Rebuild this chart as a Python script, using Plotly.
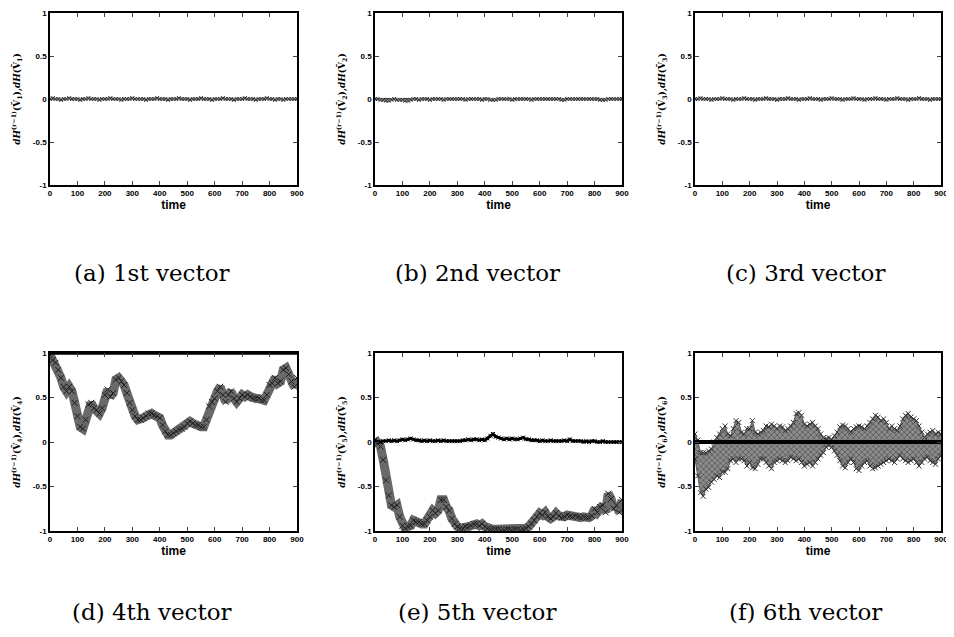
import plotly.graph_objects as go

# time grid (every 10 steps)
time = list(range(0, 901, 10))
ends = [0, 900]

# top row: dH(V_k) stays on zero
dh1 = [0.0, 0.01, 0.0, 0.0, -0.01, 0.0, 0.0, 0.01, 0.0, 0.0, 0.0, -0.01, 0.0, 0.0, 0.01, 0.0,
       0.0, 0.0, -0.01, 0.0, 0.0, 0.0, 0.01, 0.0, 0.0, 0.0, -0.01, 0.0, 0.0, 0.0, 0.01, 0.0,
       0.0, 0.0, 0.0, -0.01, 0.0, 0.0, 0.0, 0.01, 0.0, 0.0, 0.0, -0.01, 0.0, 0.0, 0.0, 0.01,
       0.0, 0.0, 0.0, -0.01, 0.0, 0.0, 0.0, 0.01, 0.0, 0.0, 0.0, -0.01, 0.0, 0.0, 0.0, 0.01,
       0.0, 0.0, 0.0, -0.01, 0.0, 0.0, 0.0, 0.01, 0.0, 0.0, 0.0, -0.01, 0.0, 0.0, 0.0, 0.01,
       0.0, 0.0, -0.01, 0.0, 0.0, -0.01, 0.0, 0.0, 0.0, 0.0, 0.0]
dh2 = [0.0, 0.0, -0.01, -0.01, -0.02, -0.02, -0.01, 0.0, -0.01, -0.01, -0.01, -0.02, -0.02, -0.01,
       0.0, 0.0, -0.01, 0.0, 0.0, 0.0, -0.01, 0.0, 0.0, 0.0, 0.0, -0.01, 0.0, 0.0, 0.0, 0.0,
       0.0, 0.0, 0.0, -0.01, 0.0, 0.0, 0.0, 0.0, 0.0, -0.01, 0.0, 0.0, -0.01, -0.01, -0.01, 0.0,
       0.0, 0.0, 0.0, 0.0, -0.01, 0.0, 0.0, 0.0, 0.0, 0.0, 0.0, -0.01, 0.0, 0.0, 0.0, 0.0,
       0.0, 0.0, 0.0, 0.0, 0.0, 0.0, -0.01, -0.01, 0.0, 0.0, 0.0, 0.0, 0.0, 0.0, 0.0, 0.0,
       0.0, 0.0, 0.0, 0.0, -0.01, -0.01, -0.01, 0.0, 0.0, 0.0, 0.0, 0.0, 0.0]
dh3 = [0.0, 0.0, 0.01, 0.0, 0.0, 0.0, -0.01, 0.0, 0.0, 0.0, 0.01, 0.0, 0.0, 0.0, -0.01, 0.0,
       0.0, 0.0, 0.01, 0.0, 0.0, 0.0, -0.01, 0.0, 0.0, 0.0, 0.01, 0.0, 0.0, 0.0, -0.01, 0.0,
       0.0, 0.0, 0.01, 0.0, 0.0, 0.0, -0.01, 0.0, 0.0, 0.0, 0.01, 0.0, 0.0, 0.0, -0.01, 0.0,
       0.0, 0.0, 0.01, 0.0, 0.0, 0.0, -0.01, 0.0, 0.0, 0.0, 0.01, 0.0, 0.0, 0.0, -0.01, 0.0,
       0.0, 0.0, 0.01, 0.0, 0.0, 0.0, -0.01, 0.0, 0.0, 0.0, 0.01, 0.0, 0.0, 0.0, -0.01, 0.0,
       0.0, 0.0, 0.01, 0.0, 0.0, 0.0, -0.01, 0.0, 0.0, 0.0, 0.0]

# 4th vector
dh4 = [0.98, 0.92, 0.89, 0.81, 0.72, 0.62, 0.57, 0.62, 0.57, 0.44,
       0.29, 0.17, 0.15, 0.25, 0.42, 0.44, 0.38, 0.36, 0.32, 0.38,
       0.53, 0.59, 0.51, 0.55, 0.70, 0.72, 0.68, 0.64, 0.55, 0.44,
       0.36, 0.29, 0.25, 0.25, 0.27, 0.29, 0.32, 0.32, 0.30, 0.29,
       0.27, 0.19, 0.12, 0.08, 0.08, 0.10, 0.12, 0.14, 0.15, 0.17,
       0.21, 0.23, 0.21, 0.19, 0.19, 0.17, 0.17, 0.25, 0.40, 0.45,
       0.49, 0.57, 0.62, 0.53, 0.45, 0.53, 0.57, 0.49, 0.45, 0.49,
       0.53, 0.51, 0.53, 0.51, 0.49, 0.49, 0.49, 0.47, 0.47, 0.53,
       0.64, 0.66, 0.72, 0.66, 0.68, 0.81, 0.83, 0.76, 0.68, 0.62, 0.72]
orc4 = [1.0, 1.0]

# 5th vector
dh5 = [0.03, -0.02, -0.05, -0.20, -0.43, -0.60, -0.71, -0.73, -0.71, -0.84,
       -0.94, -0.97, -0.95, -0.94, -0.88, -0.90, -0.90, -0.92, -0.92, -0.88,
       -0.84, -0.77, -0.80, -0.77, -0.65, -0.65, -0.73, -0.77, -0.86, -0.92,
       -0.95, -0.97, -0.97, -0.95, -0.95, -0.94, -0.92, -0.92, -0.94, -0.92,
       -0.95, -0.97, -0.98, -0.98, -0.98, -0.98, -0.99, -0.99, -0.98, -0.98,
       -0.99, -0.98, -0.98, -0.99, -0.98, -0.97, -0.95, -0.92, -0.88, -0.84,
       -0.80, -0.82, -0.79, -0.84, -0.86, -0.84, -0.80, -0.83, -0.85, -0.84,
       -0.82, -0.83, -0.84, -0.83, -0.84, -0.85, -0.84, -0.85, -0.85, -0.83,
       -0.75, -0.79, -0.73, -0.71, -0.79, -0.58, -0.64, -0.75, -0.71, -0.79, -0.65]
orc5 = [0.02, 0.0, 0.0, 0.01, 0.01, 0.02, 0.01, 0.02, 0.01, 0.02,
        0.03, 0.02, 0.03, 0.04, 0.03, 0.02, 0.02, 0.01, 0.02, 0.01,
        0.02, 0.01, 0.01, 0.02, 0.01, 0.02, 0.01, 0.01, 0.01, 0.01,
        0.01, 0.01, 0.02, 0.02, 0.03, 0.02, 0.03, 0.03, 0.02, 0.03,
        0.02, 0.04, 0.07, 0.09, 0.06, 0.05, 0.04, 0.03, 0.04, 0.03,
        0.04, 0.03, 0.03, 0.04, 0.05, 0.03, 0.03, 0.02, 0.02, 0.02,
        0.01, 0.02, 0.01, 0.01, 0.02, 0.01, 0.01, 0.01, 0.01, 0.02,
        0.01, 0.03, 0.01, 0.01, 0.01, 0.01, 0.0, 0.01, 0.0, 0.01,
        0.01, 0.0, 0.0, 0.01, 0.0, 0.0, 0.0, 0.0, 0.0, 0.0, 0.0]

# 6th vector: spread of dH(V_6), upper and lower edge of the cloud
dh6_hi = [0.09, 0.02, -0.12, -0.12, -0.12, -0.10, -0.08, 0.0, 0.05, 0.09,
          0.15, 0.18, 0.09, 0.07, 0.15, 0.24, 0.22, 0.11, 0.09, 0.15,
          0.15, 0.24, 0.11, 0.09, 0.11, 0.13, 0.18, 0.17, 0.20, 0.18,
          0.15, 0.18, 0.17, 0.13, 0.15, 0.18, 0.22, 0.32, 0.33, 0.30,
          0.20, 0.18, 0.20, 0.22, 0.18, 0.15, 0.09, 0.05, 0.04, 0.05,
          0.03, 0.07, 0.11, 0.17, 0.19, 0.18, 0.15, 0.11, 0.15, 0.17,
          0.18, 0.17, 0.15, 0.18, 0.22, 0.26, 0.30, 0.28, 0.24, 0.26,
          0.22, 0.15, 0.18, 0.15, 0.13, 0.18, 0.26, 0.30, 0.32, 0.28,
          0.26, 0.24, 0.18, 0.11, 0.05, 0.09, 0.11, 0.13, 0.09, 0.11, 0.09]
dh6_lo = [-0.19, -0.38, -0.57, -0.61, -0.53, -0.51, -0.45, -0.42, -0.38, -0.40,
          -0.34, -0.34, -0.30, -0.21, -0.19, -0.23, -0.19, -0.19, -0.21, -0.27,
          -0.23, -0.29, -0.30, -0.25, -0.19, -0.19, -0.23, -0.27, -0.30, -0.23,
          -0.21, -0.19, -0.21, -0.23, -0.21, -0.17, -0.19, -0.21, -0.19, -0.23,
          -0.27, -0.25, -0.23, -0.27, -0.23, -0.19, -0.15, -0.12, -0.06, -0.04,
          -0.06, -0.10, -0.15, -0.21, -0.27, -0.29, -0.23, -0.19, -0.23, -0.30,
          -0.32, -0.27, -0.23, -0.21, -0.27, -0.30, -0.29, -0.27, -0.25, -0.23,
          -0.21, -0.19, -0.21, -0.23, -0.19, -0.15, -0.19, -0.21, -0.23, -0.21,
          -0.19, -0.23, -0.27, -0.23, -0.19, -0.17, -0.21, -0.23, -0.25, -0.19, -0.15]
orc_zero = [0.0, 0.0]

captions = ["(a) 1st vector", "(b) 2nd vector", "(c) 3rd vector",
            "(d) 4th vector", "(e) 5th vector", "(f) 6th vector"]
yticks = [-1, -0.5, 0, 0.5, 1]
ytext = ["-1", "-0.5", "0", "0.5", "1"]

# page has an 8px body margin, so the figure is offset by that much
W, H, OFF = 946, 629, 8
def fx(px):
    return (px - OFF) / W
def fy(py):
    return 1 - (py - OFF) / H

xdoms = [[fx(50), fx(297)], [fx(375), fx(622)], [fx(695), fx(941)]]
ydoms = [[fy(185), fy(13)], [fy(531), fy(353)]]

fig = go.Figure()

band = dict(mode="lines+markers", line=dict(color="#6a6a6a", width=9),
            marker=dict(symbol="x-thin", size=6, line=dict(color="#1e1e1e", width=1)),
            showlegend=False, hoverinfo="skip")
dark = dict(mode="lines", line=dict(color="black", width=1.5), showlegend=False, hoverinfo="skip")

def ax(n):
    return "" if n == 1 else str(n)

# top row
for i, d in enumerate([dh1, dh2, dh3]):
    n = i + 1
    fig.add_trace(go.Scatter(x=ends, y=orc_zero, xaxis="x" + ax(n), yaxis="y" + ax(n), **dark))
    fig.add_trace(go.Scatter(x=time, y=d, xaxis="x" + ax(n), yaxis="y" + ax(n), mode="lines+markers",
                             line=dict(color="#a0a0a0", width=3),
                             marker=dict(symbol="x-thin", size=4, line=dict(color="#333", width=1)),
                             showlegend=False, hoverinfo="skip"))

# (d)
fig.add_trace(go.Scatter(x=time, y=dh4, xaxis="x4", yaxis="y4", **band))
fig.add_trace(go.Scatter(x=ends, y=orc4, xaxis="x4", yaxis="y4", mode="lines",
                         line=dict(color="black", width=3.5), showlegend=False, hoverinfo="skip"))
# (e)
fig.add_trace(go.Scatter(x=time, y=dh5, xaxis="x5", yaxis="y5", **band))
fig.add_trace(go.Scatter(x=time, y=orc5, xaxis="x5", yaxis="y5", mode="lines+markers",
                         line=dict(color="black", width=3),
                         marker=dict(symbol="x-thin", size=4, line=dict(color="black", width=1)),
                         showlegend=False, hoverinfo="skip"))
# (f)
edge = dict(symbol="x-thin", size=5, line=dict(color="#333", width=1))
fig.add_trace(go.Scatter(x=time, y=dh6_lo, xaxis="x6", yaxis="y6", mode="lines+markers",
                         line=dict(color="#555", width=1), marker=edge,
                         showlegend=False, hoverinfo="skip"))
fig.add_trace(go.Scatter(x=time, y=dh6_hi, xaxis="x6", yaxis="y6", mode="lines+markers",
                         line=dict(color="#555", width=1), marker=edge, fill="tonexty",
                         fillpattern=dict(shape="x", fgcolor="#1e1e1e", bgcolor="#8c8c8c",
                                          size=4, solidity=0.35),
                         showlegend=False, hoverinfo="skip"))
fig.add_trace(go.Scatter(x=ends, y=orc_zero, xaxis="x6", yaxis="y6", mode="lines",
                         line=dict(color="black", width=4), showlegend=False, hoverinfo="skip"))

tickfont = dict(family="Liberation Sans", size=8, color="black", weight="bold")
layout = dict(width=W, height=H, margin=dict(l=0, r=0, t=0, b=0, autoexpand=False),
              paper_bgcolor="white", plot_bgcolor="white", showlegend=False)

for i in range(6):
    n = i + 1
    row, col = i // 3, i % 3
    layout["xaxis" + ax(n)] = dict(
        domain=xdoms[col], anchor="y" + ax(n), range=[0, 900], tickvals=list(range(0, 901, 100)),
        ticks="inside", ticklen=4, mirror="allticks", showline=True, linecolor="black",
        linewidth=1.5, showgrid=False, zeroline=False, tickfont=tickfont, automargin=False,
        ticklabeloverflow="allow",
        title=dict(text="time", font=dict(family="Liberation Sans", size=12, color="black",
                                          weight="bold"), standoff=1))
    layout["yaxis" + ax(n)] = dict(
        domain=ydoms[row], anchor="x" + ax(n), range=[-1, 1], tickvals=yticks, ticktext=ytext,
        ticks="inside", ticklen=4, mirror="allticks", showline=True, linecolor="black",
        linewidth=1.5, showgrid=False, zeroline=False, tickfont=tickfont, automargin=False,
        ticklabeloverflow="allow",
        title=dict(text="<i>dH</i><sup>(r−1)</sup>(V\u0304<sub>%d</sub>),<i>dH</i>(V\u0304<sub>%d</sub>)" % (n, n),
                   font=dict(family="DejaVu Serif", size=9, color="black", weight="bold"),
                   standoff=11))

ann = []
cx = [152, 477, 805]
cy = [273, 612]
for i, c in enumerate(captions):
    ann.append(dict(text=c, x=fx(cx[i % 3]), y=fy(cy[i // 3]), xref="paper", yref="paper",
                    showarrow=False, xanchor="center", yanchor="middle",
                    font=dict(family="DejaVu Serif", size=23, color="black")))
layout["annotations"] = ann

fig.update_layout(**layout)
fig.write_html("out.html")
